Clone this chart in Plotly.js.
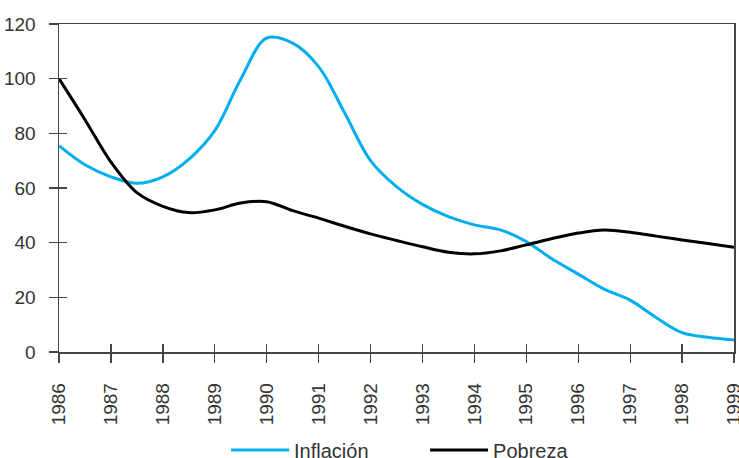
<!DOCTYPE html>
<html>
<head>
<meta charset="utf-8">
<script src="https://cdn.plot.ly/plotly-3.0.1.min.js"></script>
<style>html,body{margin:0;padding:0;background:#fff}#chart{width:739px;height:458px}</style>
</head>
<body>
<div id="chart"></div>
<script>
const yearTicks = [1986,1987,1988,1989,1990,1991,1992,1993,1994,1995,1996,1997,1998,1999];
const yTicks = [0,20,40,60,80,100,120];

const years = [1986,1986.5,1987,1987.5,1988,1988.5,1989,1989.5,1990,1990.5,1991,1991.5,1992,1992.5,1993,1993.5,1994,1994.5,1995,1995.5,1996,1996.5,1997,1997.5,1998,1998.5,1999];
const inflacion = [75.5,68.5,64.1,61.7,64.1,70.5,81,99.8,114.8,113,104.4,87.5,70,60.5,54,49.5,46.5,44.7,40.4,34,28.5,23,19,12.6,7.1,5.4,4.4];
const pobreza = [100,85,69.5,58.3,53.3,51,52,54.5,55,51.7,49,46,43.2,40.8,38.5,36.5,35.9,37,39.2,41.5,43.5,44.6,43.8,42.4,41,39.7,38.3];

const axisColor = '#444';
const FAM = 'Liberation Sans, Arial, sans-serif';

const traces = [
  {x: years, y: inflacion, name: 'Inflación', mode: 'lines', line: {color: '#00AEEF', width: 3, shape: 'spline', smoothing: 1}, xaxis: 'x', yaxis: 'y'},
  {x: years, y: pobreza, name: 'Pobreza', mode: 'lines', line: {color: '#000000', width: 3, shape: 'spline', smoothing: 1}, xaxis: 'x2', yaxis: 'y2'}
];

const layout = {
  width: 739, height: 458,
  margin: {l: 59, r: 5, t: 24, b: 106},
  paper_bgcolor: '#fff', plot_bgcolor: '#fff',
  font: {family: FAM, size: 19, color: '#333'},
  showlegend: true,
  legend: {orientation: 'h', x: 0.2475, xanchor: 'left', yref: 'container', y: 0.0175, yanchor: 'middle',
           bgcolor: 'rgba(0,0,0,0)', font: {family: FAM, size: 20, color: '#333'}, itemwidth: 58,
           entrywidth: 126, entrywidthmode: 'pixels'},
  xaxis: {
    range: [1986, 1999], tickvals: yearTicks, ticktext: yearTicks.map(String),
    tickangle: -90, ticks: 'outside', ticklen: 9, tickwidth: 1.3, tickcolor: axisColor,
    showline: true, linecolor: axisColor, linewidth: 1.5, mirror: true,
    showgrid: false, zeroline: false, ticklabelstandoff: 13, ticklabeloverflow: 'allow',
    automargin: false, tickfont: {family: FAM, size: 19, color: '#333'}
  },
  xaxis2: {
    range: [1986, 1999], tickvals: yearTicks, overlaying: 'x', anchor: 'y',
    ticks: 'inside', ticklen: 8, tickwidth: 1.3, tickcolor: axisColor,
    showticklabels: false, showline: false, showgrid: false, zeroline: false
  },
  yaxis: {
    range: [0, 120], tickvals: yTicks, ticks: 'outside', ticklen: 9, tickwidth: 1.3, tickcolor: axisColor,
    showline: true, linecolor: axisColor, linewidth: 1.5, mirror: true,
    showgrid: false, zeroline: false, ticklabelstandoff: 9, automargin: false,
    tickfont: {family: FAM, size: 19, color: '#333'}
  },
  yaxis2: {
    range: [0, 120], tickvals: yTicks, overlaying: 'y', anchor: 'x', side: 'left',
    ticks: 'inside', ticklen: 8, tickwidth: 1.3, tickcolor: axisColor,
    showticklabels: false, showline: false, showgrid: false, zeroline: false
  }
};

Plotly.newPlot('chart', traces, layout, {displayModeBar: false, staticPlot: true});
</script>
</body>
</html>
